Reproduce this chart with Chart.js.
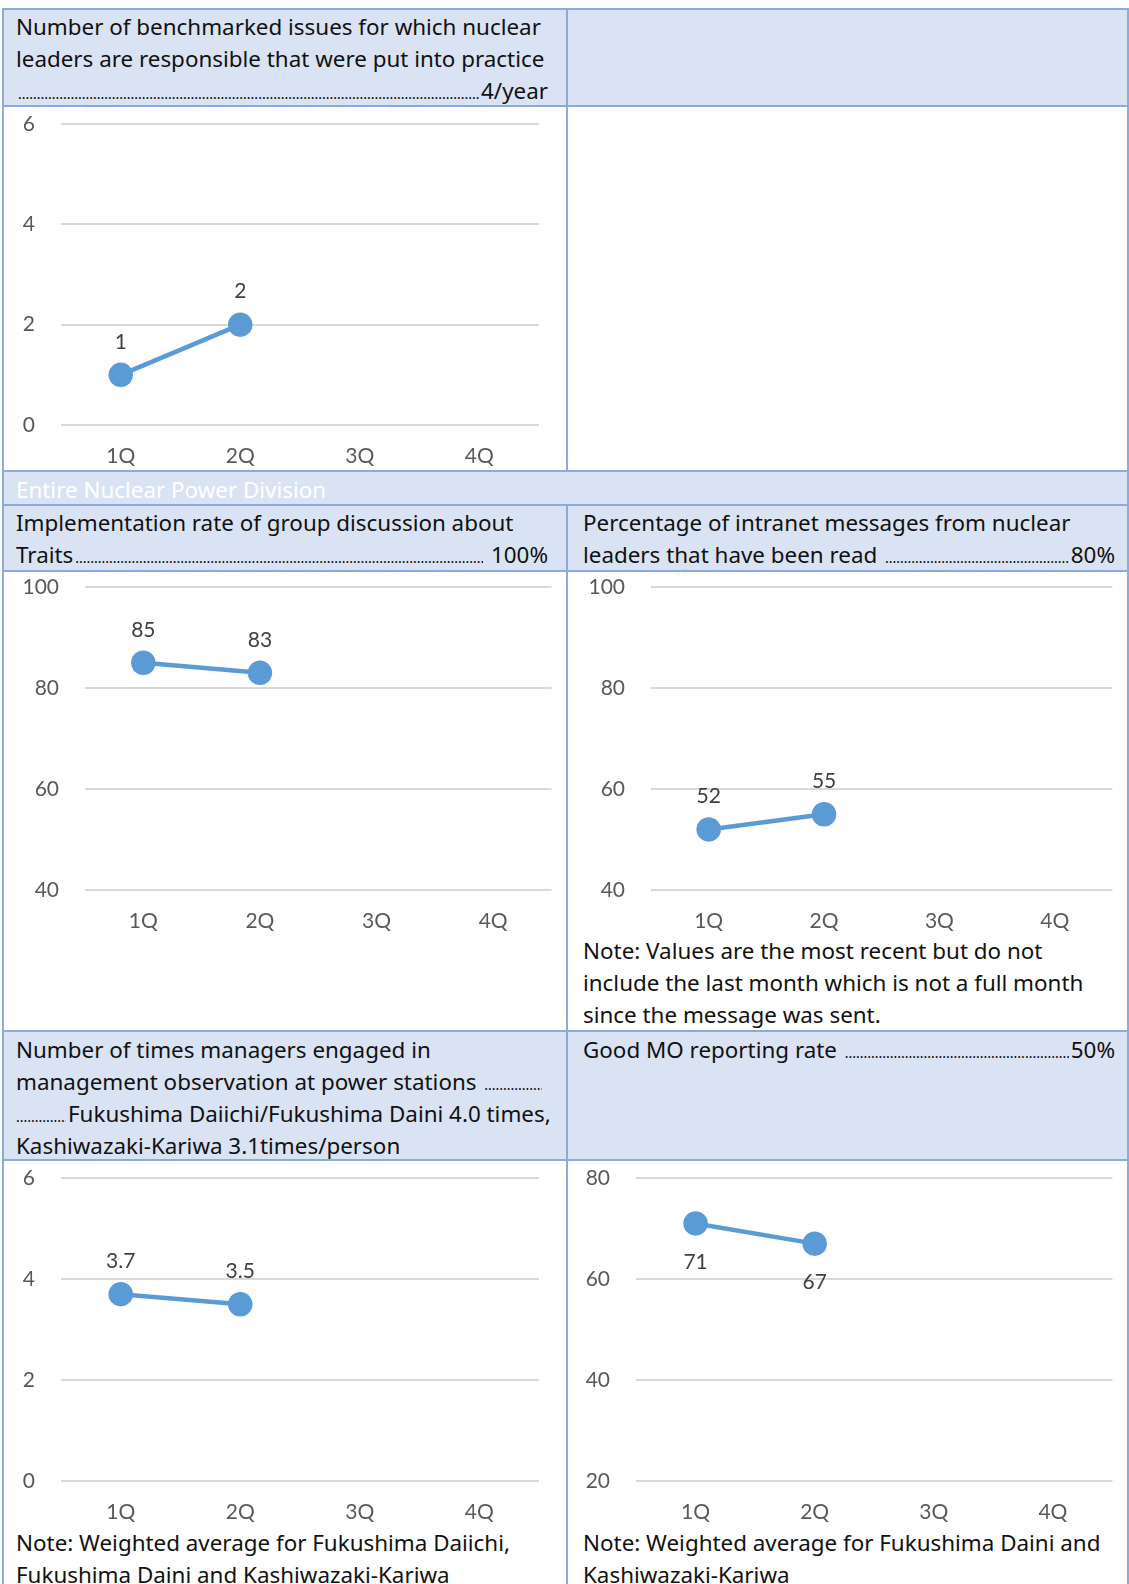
<!DOCTYPE html>
<html lang="en">
<head>
<meta charset="UTF-8" />
<title>Nuclear leadership indicators</title>
<script src="https://cdn.jsdelivr.net/npm/chart.js"></script>
<style>
    body { margin: 0; background: #fff; }
    #sheet { position: relative; width: 1129px; height: 1584px; overflow: hidden; font-family: "Noto Sans", sans-serif; color: #111; }
    .fill { position: absolute; background: #dae3f3; }
    .hl { position: absolute; height: 2px; background: #8eaadb; }
    .vl { position: absolute; width: 2px; background: #8eaadb; }
    .txt { position: absolute; font-size: 22.4px; line-height: 32px; white-space: nowrap; }
    .lead { display: flex; align-items: baseline; height: 32px; }
    .lead i { flex: 1; overflow: hidden; white-space: nowrap; font-style: normal; font-size: 14px; margin: 0 2px; color: #000; }
    .lead i::before { content: "................................................................................................................................................................................................................................................"; }
    .box { position: absolute; }
    .band { color: #fff; }
</style>
</head>
<body>
<div id="sheet">
    <!-- header backgrounds -->
    <div class="fill" style="left:3px;top:9px;width:1125px;height:97px"></div>
    <div class="fill" style="left:3px;top:471px;width:1125px;height:100px"></div>
    <div class="fill" style="left:3px;top:1031px;width:1125px;height:129px"></div>

    <!-- table rules -->
    <div class="hl" style="left:2px;top:8px;width:1127px"></div>
    <div class="hl" style="left:2px;top:105px;width:1127px"></div>
    <div class="hl" style="left:2px;top:470px;width:1127px"></div>
    <div class="hl" style="left:2px;top:504px;width:1127px"></div>
    <div class="hl" style="left:2px;top:570px;width:1127px"></div>
    <div class="hl" style="left:2px;top:1030px;width:1127px"></div>
    <div class="hl" style="left:2px;top:1159px;width:1127px"></div>
    <div class="vl" style="left:2px;top:8px;height:1576px"></div>
    <div class="vl" style="left:1127px;top:8px;height:1576px"></div>
    <div class="vl" style="left:566px;top:8px;height:464px"></div>
    <div class="vl" style="left:566px;top:504px;height:1080px"></div>

    <!-- header texts -->
    <div class="txt" style="left:16px;top:11px;width:532px">
        <div>Number of benchmarked issues for which nuclear</div>
        <div>leaders are responsible that were put into practice</div>
        <div class="lead"><i></i><span>4/year</span></div>
    </div>
    <div class="txt band" style="left:16px;top:474px">Entire Nuclear Power Division</div>
    <div class="txt" style="left:16px;top:507px;width:532px">
        <div>Implementation rate of group discussion about</div>
        <div class="lead"><span>Traits</span><i></i><span>&nbsp;100%</span></div>
    </div>
    <div class="txt" style="left:583px;top:507px;width:532px">
        <div>Percentage of intranet messages from nuclear</div>
        <div class="lead"><span>leaders that have been read&nbsp;</span><i></i><span>80%</span></div>
    </div>
    <div class="txt" style="left:583px;top:935px">
        <div>Note: Values are the most recent but do not</div>
        <div>include the last month which is not a full month</div>
        <div>since the message was sent.</div>
    </div>
    <div class="txt" style="left:16px;top:1034px;width:532px">
        <div>Number of times managers engaged in</div>
        <div class="lead" style="width:528px"><span>management observation at power stations&nbsp;</span><i></i></div>
        <div class="lead"><i style="flex:none;width:50px;margin-left:0"></i><span>Fukushima Daiichi/Fukushima Daini 4.0 times,</span></div>
        <div>Kashiwazaki-Kariwa 3.1times/person</div>
    </div>
    <div class="txt" style="left:583px;top:1034px;width:532px">
        <div class="lead"><span>Good MO reporting rate&nbsp;</span><i></i><span>50%</span></div>
    </div>
    <div class="txt" style="left:16px;top:1527px">
        <div>Note: Weighted average for Fukushima Daiichi,</div>
        <div>Fukushima Daini and Kashiwazaki-Kariwa</div>
    </div>
    <div class="txt" style="left:583px;top:1527px">
        <div>Note: Weighted average for Fukushima Daini and</div>
        <div>Kashiwazaki-Kariwa</div>
    </div>

    <div class="box" id="b1"><canvas id="c1"></canvas></div>
    <div class="box" id="b2"><canvas id="c2"></canvas></div>
    <div class="box" id="b3"><canvas id="c3"></canvas></div>
    <div class="box" id="b4"><canvas id="c4"></canvas></div>
    <div class="box" id="b5"><canvas id="c5"></canvas></div>
</div>

<script>
    // quarterly results
    const quarters = ['1Q', '2Q', '3Q', '4Q'];
    const practiceIssues = [1, 2, null, null];
    const groupDiscussionRate = [85, 83, null, null];
    const intranetReadRate = [52, 55, null, null];
    const moTimesPerPerson = [3.7, 3.5, null, null];
    const goodMoRate = [71, 67, null, null];

    // y axis ranges [min, max, step]
    const practiceRange = [0, 6, 2];
    const groupRange = [40, 100, 20];
    const intranetRange = [40, 100, 20];
    const moTimesRange = [0, 6, 2];
    const goodMoRange = [20, 80, 20];

    const LINE_BLUE = '#5b9bd5';
    const TICK_FONT = { family: 'Lato', size: 21 };
    const TOP_ROOM = 42, X_H = 60;

    // writes the value above (or below) each point
    const valueLabels = {
        id: 'valueLabels',
        afterDatasetsDraw(chart, args, opts) {
            const ctx = chart.ctx;
            const meta = chart.getDatasetMeta(0);
            const data = chart.data.datasets[0].data;
            ctx.save();
            ctx.font = '21px Lato, sans-serif';
            ctx.fillStyle = '#404040';
            ctx.textAlign = 'center';
            ctx.textBaseline = 'middle';
            meta.data.forEach((pt, i) => {
                if (data[i] == null) return;
                const dy = opts.below ? 39 : -33;
                ctx.fillText(String(data[i]), pt.x, pt.y + dy);
            });
            ctx.restore();
        }
    };

    // cellLeft/cellRight: canvas edges; area: plot rect [left, top, right, bottom] in page pixels
    function makeChart(id, cellLeft, cellRight, area, values, range, below) {
        const box = [cellLeft, area[1] - TOP_ROOM, cellRight - cellLeft, area[3] - area[1] + TOP_ROOM + X_H];
        const yW = area[0] - cellLeft;
        const wrap = document.getElementById('b' + id);
        wrap.style.left = box[0] + 'px';
        wrap.style.top = box[1] + 'px';
        wrap.style.width = box[2] + 'px';
        wrap.style.height = box[3] + 'px';

        new Chart(document.getElementById('c' + id), {
            type: 'line',
            data: {
                labels: quarters,
                datasets: [{
                    data: values,
                    borderColor: LINE_BLUE,
                    backgroundColor: LINE_BLUE,
                    borderWidth: 4.5,
                    pointRadius: 10,
                    pointHoverRadius: 10,
                    tension: 0
                }]
            },
            options: {
                responsive: true,
                maintainAspectRatio: false,
                animation: false,
                events: [],
                layout: {
                    padding: { left: 0, top: TOP_ROOM, right: cellRight - area[2], bottom: 0 }
                },
                plugins: {
                    legend: { display: false },
                    tooltip: { enabled: false },
                    valueLabels: { below: below }
                },
                scales: {
                    x: {
                        offset: true,
                        afterFit(scale) { scale.height = X_H; },
                        grid: { display: false },
                        border: { display: false },
                        ticks: { color: '#595959', font: TICK_FONT, padding: 11 }
                    },
                    y: {
                        min: range[0],
                        max: range[1],
                        afterFit(scale) { scale.width = yW; },
                        grid: { color: '#d9d9d9', lineWidth: 2, drawTicks: false },
                        border: { display: false },
                        ticks: { stepSize: range[2], color: '#595959', font: TICK_FONT, padding: 26 }
                    }
                }
            },
            plugins: [valueLabels]
        });
    }

    makeChart(1, 4, 566, [61, 124, 539, 425], practiceIssues, practiceRange, false);
    makeChart(2, 4, 566, [85, 587, 553, 890], groupDiscussionRate, groupRange, false);
    makeChart(3, 569, 1127, [651, 587, 1119, 890], intranetReadRate, intranetRange, false);
    makeChart(4, 4, 566, [61, 1178, 539, 1481], moTimesPerPerson, moTimesRange, false);
    makeChart(5, 569, 1127, [636, 1178, 1119, 1481], goodMoRate, goodMoRange, true);
</script>
</body>
</html>
